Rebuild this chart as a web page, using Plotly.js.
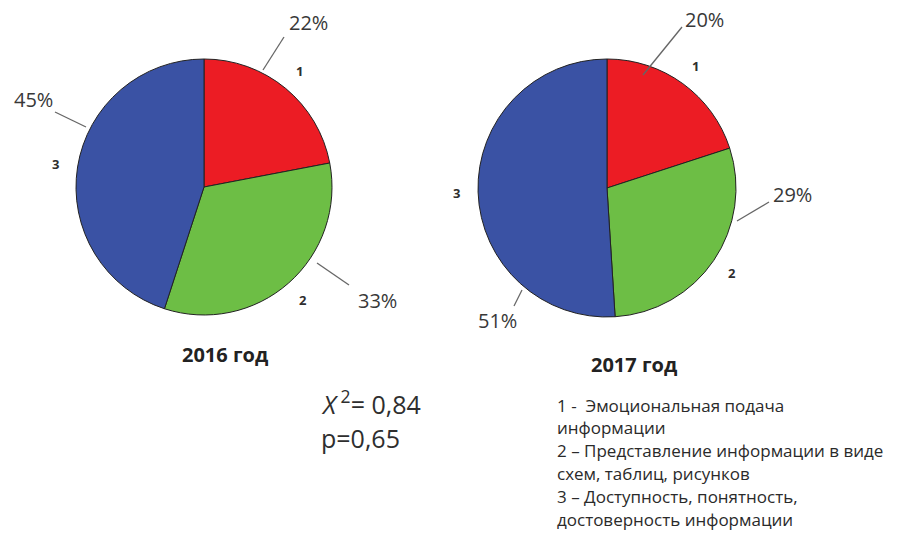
<!DOCTYPE html>
<html><head><meta charset="utf-8">
<script src="https://cdn.plot.ly/plotly-3.0.1.min.js"></script>
<style>html,body{margin:0;padding:0;background:#fff}#chart{width:899px;height:533px}</style>
</head><body><div id="chart"></div>
<script>
// ---- data ----
const sliceLabels = ['1', '2', '3'];
const values2016 = [22, 33, 45];
const values2017 = [20, 29, 51];
const yearTitles = ['2016 год', '2017 год'];
const statLines = ['<i>X</i><sup> 2</sup>= 0,84', 'p=0,65'];
const legendLines = [
  '1 -  Эмоциональная подача',
  'информации',
  '2 – Представление информации в виде',
  'схем, таблиц, рисунков',
  '3 – Доступность, понятность,',
  'достоверность информации'
];
const sliceColors = ['#EC1C24', '#6DBE45', '#3A52A4'];

// ---- layout helpers (pixel -> paper) ----
const W = 899, H = 533;
const px = x => x / W;
const py = y => 1 - y / H;
function dom(cx, cy, r) { return {x: [px(cx - r), px(cx + r)], y: [py(cy + r), py(cy - r)]}; }

const FONT = 'Open Sans, Noto Sans, sans-serif';
const TXT = '#2e2e2e';

const pies = [
  {vals: values2016, cx: 204, cy: 187, r: 128},
  {vals: values2017, cx: 607, cy: 188, r: 129}
];

const data = pies.map(p => ({
  type: 'pie', values: p.vals, labels: sliceLabels, sort: false, direction: 'clockwise', rotation: 0,
  domain: dom(p.cx, p.cy, p.r), showlegend: false, hoverinfo: 'none', textinfo: 'none',
  marker: {colors: sliceColors, line: {color: '#222', width: 1}}
}));

const annotations = [];
const shapes = [];

// slice number labels, placed at each slice's mid-angle just outside the pie
pies.forEach(p => {
  const total = p.vals.reduce((a, b) => a + b, 0);
  let cum = 0;
  p.vals.forEach((v, i) => {
    const mid = (cum + v / 2) / total * 2 * Math.PI;
    cum += v;
    const d = p.r + 22;
    annotations.push({xref: 'paper', yref: 'paper', x: px(p.cx + d * Math.sin(mid)), y: py(p.cy - d * Math.cos(mid)),
      text: '<b>' + sliceLabels[i] + '</b>', showarrow: false, xanchor: 'center', yanchor: 'middle',
      font: {family: FONT, size: 13, color: TXT}});
  });
});

// percent labels: [text-center-x, text-center-y, leader x0,y0,x1,y1]
const pctPlace2016 = [[308, 22, 263, 70, 284, 37], [377, 300, 317, 263, 349, 285], [33, 100, 55, 112, 86, 127]];
const pctPlace2017 = [[704, 20, 643, 75, 682, 27], [792, 194, 737, 221, 769, 202], [497, 320, 522, 290, 514, 306]];

function addPct(vals, place) {
  vals.forEach((v, i) => {
    const p = place[i];
    annotations.push({xref: 'paper', yref: 'paper', x: px(p[0]), y: py(p[1]), text: v + '%',
      showarrow: false, xanchor: 'center', yanchor: 'middle',
      font: {family: FONT, size: 20, color: '#383838'}});
    shapes.push({type: 'line', xref: 'paper', yref: 'paper', x0: px(p[2]), y0: py(p[3]), x1: px(p[4]), y1: py(p[5]),
      line: {color: '#666', width: 1.3}});
  });
}
addPct(values2016, pctPlace2016);
addPct(values2017, pctPlace2017);

[[225, 354], [634, 364]].forEach((c, i) => {
  annotations.push({xref: 'paper', yref: 'paper', x: px(c[0]), y: py(c[1]), text: '<b>' + yearTitles[i] + '</b>',
    showarrow: false, xanchor: 'center', yanchor: 'middle', font: {family: FONT, size: 20, color: '#222'}});
});

statLines.forEach((t, i) => {
  annotations.push({xref: 'paper', yref: 'paper', x: px(319), y: py(402 + i * 36), text: t,
    showarrow: false, xanchor: 'left', yanchor: 'middle', font: {family: FONT, size: 25, color: TXT}});
});

legendLines.forEach((t, i) => {
  annotations.push({xref: 'paper', yref: 'paper', x: px(555), y: py(405 + i * 22.8), text: t,
    showarrow: false, xanchor: 'left', yanchor: 'middle', font: {family: FONT, size: 17, color: '#2a2a2a'}});
});

const layout = {
  width: W, height: H, margin: {l: 0, r: 0, t: 0, b: 0},
  paper_bgcolor: '#ffffff', plot_bgcolor: '#ffffff',
  annotations: annotations, shapes: shapes, showlegend: false
};

Plotly.newPlot('chart', data, layout, {staticPlot: true, displayModeBar: false});
</script></body></html>
